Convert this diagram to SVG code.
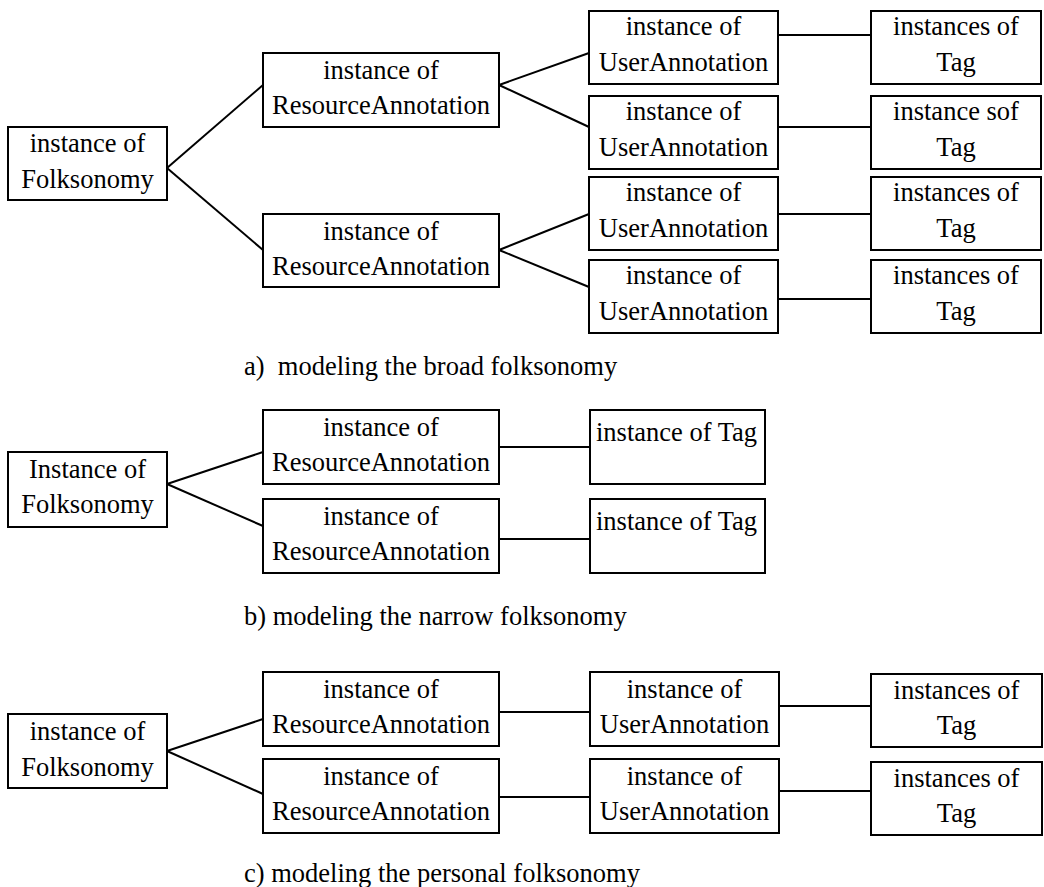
<svg xmlns="http://www.w3.org/2000/svg" width="1044" height="887" viewBox="0 0 1044 887">
  <style>
    .box { fill: #fff; stroke: #000; stroke-width: 2; }
    .edge { stroke: #000; stroke-width: 2; fill: none; }
    text { font-family: "Liberation Serif", "Times New Roman", serif; font-size: 26.5px; fill: #000; }
    .c { text-anchor: middle; }
  </style>
  <rect width="1044" height="887" fill="#fff"/>

  <!-- connectors -->
  <g id="connectors" class="edge">
    <!-- a) broad -->
    <line x1="167" y1="168" x2="263" y2="85"/>
    <line x1="167" y1="168" x2="263" y2="250"/>
    <line x1="499" y1="85" x2="589" y2="53"/>
    <line x1="499" y1="85" x2="589" y2="127"/>
    <line x1="499" y1="250" x2="589" y2="214"/>
    <line x1="499" y1="250" x2="589" y2="287"/>
    <line x1="778" y1="35" x2="871" y2="35"/>
    <line x1="778" y1="127" x2="871" y2="127"/>
    <line x1="778" y1="214" x2="871" y2="214"/>
    <line x1="778" y1="299" x2="871" y2="299"/>
    <!-- b) narrow -->
    <line x1="167" y1="484" x2="263" y2="452"/>
    <line x1="167" y1="484" x2="263" y2="526"/>
    <line x1="499" y1="447" x2="590" y2="447"/>
    <line x1="499" y1="539" x2="590" y2="539"/>
    <!-- c) personal -->
    <line x1="167" y1="751" x2="263" y2="719"/>
    <line x1="167" y1="751" x2="263" y2="794"/>
    <line x1="499" y1="712" x2="590" y2="712"/>
    <line x1="499" y1="797" x2="590" y2="797"/>
    <line x1="779" y1="706" x2="871" y2="706"/>
    <line x1="779" y1="791" x2="871" y2="791"/>
  </g>

  <!-- a) broad folksonomy -->
  <g id="a-folksonomy">
    <rect class="box" x="8" y="127" width="159" height="73"/>
    <text class="c" x="87.5" y="152">instance of</text>
    <text class="c" x="87.5" y="188">Folksonomy</text>
  </g>
  <g id="a-ra1">
    <rect class="box" x="263" y="53" width="236" height="74"/>
    <text class="c" x="381" y="79">instance of</text>
    <text class="c" x="381" y="114">ResourceAnnotation</text>
  </g>
  <g id="a-ra2">
    <rect class="box" x="263" y="214" width="236" height="73"/>
    <text class="c" x="381" y="240">instance of</text>
    <text class="c" x="381" y="275">ResourceAnnotation</text>
  </g>
  <g id="a-ua1">
    <rect class="box" x="589" y="11" width="189" height="73"/>
    <text class="c" x="683.5" y="35">instance of</text>
    <text class="c" x="683.5" y="71">UserAnnotation</text>
  </g>
  <g id="a-ua2">
    <rect class="box" x="589" y="96" width="189" height="73"/>
    <text class="c" x="683.5" y="120">instance of</text>
    <text class="c" x="683.5" y="156">UserAnnotation</text>
  </g>
  <g id="a-ua3">
    <rect class="box" x="589" y="177" width="189" height="73"/>
    <text class="c" x="683.5" y="201">instance of</text>
    <text class="c" x="683.5" y="237">UserAnnotation</text>
  </g>
  <g id="a-ua4">
    <rect class="box" x="589" y="260" width="189" height="73"/>
    <text class="c" x="683.5" y="284">instance of</text>
    <text class="c" x="683.5" y="320">UserAnnotation</text>
  </g>
  <g id="a-tag1">
    <rect class="box" x="871" y="11" width="170" height="73"/>
    <text class="c" x="956" y="35">instances of</text>
    <text class="c" x="956" y="71">Tag</text>
  </g>
  <g id="a-tag2">
    <rect class="box" x="871" y="96" width="170" height="73"/>
    <text class="c" x="956" y="120">instance sof</text>
    <text class="c" x="956" y="156">Tag</text>
  </g>
  <g id="a-tag3">
    <rect class="box" x="871" y="177" width="170" height="73"/>
    <text class="c" x="956" y="201">instances of</text>
    <text class="c" x="956" y="237">Tag</text>
  </g>
  <g id="a-tag4">
    <rect class="box" x="871" y="260" width="170" height="73"/>
    <text class="c" x="956" y="284">instances of</text>
    <text class="c" x="956" y="320">Tag</text>
  </g>
  <text id="caption-a" x="244" y="375" xml:space="preserve">a)  modeling the broad folksonomy</text>

  <!-- b) narrow folksonomy -->
  <g id="b-folksonomy">
    <rect class="box" x="8" y="452" width="159" height="75"/>
    <text class="c" x="87.5" y="478">Instance of</text>
    <text class="c" x="87.5" y="513">Folksonomy</text>
  </g>
  <g id="b-ra1">
    <rect class="box" x="263" y="410" width="236" height="74"/>
    <text class="c" x="381" y="436">instance of</text>
    <text class="c" x="381" y="471">ResourceAnnotation</text>
  </g>
  <g id="b-ra2">
    <rect class="box" x="263" y="499" width="236" height="74"/>
    <text class="c" x="381" y="525">instance of</text>
    <text class="c" x="381" y="560">ResourceAnnotation</text>
  </g>
  <g id="b-tag1">
    <rect class="box" x="590" y="410" width="175" height="74"/>
    <text x="596" y="441">instance of Tag</text>
  </g>
  <g id="b-tag2">
    <rect class="box" x="590" y="499" width="175" height="74"/>
    <text x="596" y="530">instance of Tag</text>
  </g>
  <text id="caption-b" x="244" y="625">b) modeling the narrow folksonomy</text>

  <!-- c) personal folksonomy -->
  <g id="c-folksonomy">
    <rect class="box" x="8" y="714" width="159" height="74"/>
    <text class="c" x="87.5" y="740">instance of</text>
    <text class="c" x="87.5" y="776">Folksonomy</text>
  </g>
  <g id="c-ra1">
    <rect class="box" x="263" y="672" width="236" height="74"/>
    <text class="c" x="381" y="698">instance of</text>
    <text class="c" x="381" y="733">ResourceAnnotation</text>
  </g>
  <g id="c-ra2">
    <rect class="box" x="263" y="759" width="236" height="74"/>
    <text class="c" x="381" y="785">instance of</text>
    <text class="c" x="381" y="820">ResourceAnnotation</text>
  </g>
  <g id="c-ua1">
    <rect class="box" x="590" y="672" width="189" height="74"/>
    <text class="c" x="684.5" y="698">instance of</text>
    <text class="c" x="684.5" y="733">UserAnnotation</text>
  </g>
  <g id="c-ua2">
    <rect class="box" x="590" y="759" width="189" height="74"/>
    <text class="c" x="684.5" y="785">instance of</text>
    <text class="c" x="684.5" y="820">UserAnnotation</text>
  </g>
  <g id="c-tag1">
    <rect class="box" x="871" y="674" width="171" height="73"/>
    <text class="c" x="956.5" y="699">instances of</text>
    <text class="c" x="956.5" y="734">Tag</text>
  </g>
  <g id="c-tag2">
    <rect class="box" x="871" y="762" width="171" height="73"/>
    <text class="c" x="956.5" y="787">instances of</text>
    <text class="c" x="956.5" y="822">Tag</text>
  </g>
  <text id="caption-c" x="244" y="882">c) modeling the personal folksonomy</text>
</svg>
